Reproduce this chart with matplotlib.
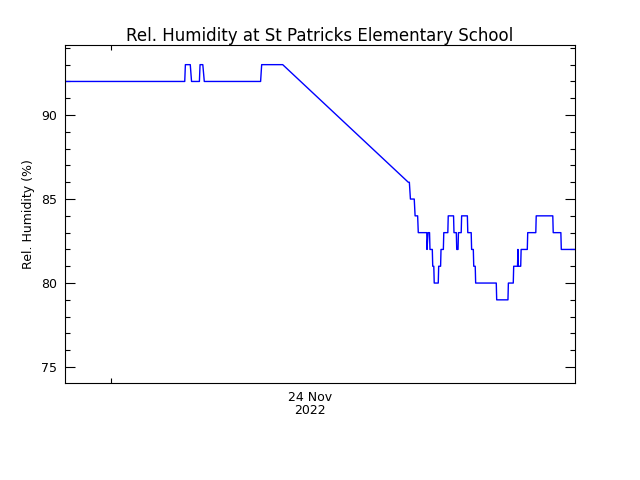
import numpy as np
import matplotlib
matplotlib.use("Agg")
import matplotlib.pyplot as plt
from matplotlib.ticker import MultipleLocator

# hours relative to 00:00, 24 Nov 2022
hours = [-2.16, 3.47, 3.50, 3.73, 3.79, 4.16, 4.19, 4.32, 4.39, 7.04, 7.09,
         8.08, 13.99, 14.04, 14.09, 14.27, 14.31, 14.43, 14.46, 14.86, 14.87,
         14.92, 14.99, 15.01, 15.12, 15.14, 15.19, 15.21, 15.40, 15.42, 15.51,
         15.53, 15.64, 15.66, 15.85, 15.87, 16.12, 16.14, 16.25, 16.27, 16.33,
         16.35, 16.48, 16.50, 16.77, 16.79, 16.95, 16.97, 17.05, 17.07, 17.14,
         17.16, 18.13, 18.15, 18.68, 18.70, 18.93, 18.95, 19.13, 19.15, 19.17,
         19.28, 19.30, 19.59, 19.61, 19.99, 20.01, 20.79, 20.81, 21.17, 21.19,
         21.84]
humidity = [92, 92, 93, 93, 92, 92, 93, 93, 92, 92, 93,
            93, 86, 86, 85, 85, 84, 84, 83, 83, 82,
            83, 83, 82, 82, 81, 81, 80, 80, 81, 81,
            82, 82, 83, 83, 84, 84, 83, 83, 82, 82,
            83, 83, 84, 84, 83, 83, 82, 82, 81, 81,
            80, 80, 79, 79, 80, 80, 81, 81, 82, 81,
            81, 82, 82, 83, 83, 84, 84, 83, 83, 82,
            82]

date_label = "24 Nov\n2022"
date_label_pos = 9.36
day_tick = 0.0

fig = plt.figure(figsize=(6.4, 4.8), dpi=100)
ax = fig.add_axes([65/640, 97/480, 510/640, 338/480])

ax.plot(hours, humidity, color=(0, 0, 1), linewidth=1.0)

ax.set_xlim(-2.165, 21.835)
ax.set_ylim(74.05, 94.17)

ax.yaxis.set_major_locator(MultipleLocator(5))
ax.yaxis.set_minor_locator(MultipleLocator(1))
ax.tick_params(axis="y", which="major", direction="in", length=7.2,
               width=0.8, left=True, right=True, labelsize=9, pad=6)
ax.tick_params(axis="y", which="minor", direction="in", length=3.6,
               width=0.8, left=True, right=True)

ax.set_xticks([date_label_pos])
ax.set_xticklabels([date_label], linespacing=1.0)
ax.set_xticks([day_tick], minor=True)
ax.tick_params(axis="x", which="major", length=0, labelsize=9, pad=6)
ax.tick_params(axis="x", which="minor", direction="in", length=3.6,
               width=0.8, top=True, bottom=True)

for s in ax.spines.values():
    s.set_linewidth(0.8)

ax.set_ylabel("Rel. Humidity (%)", fontsize=9, labelpad=4)
ax.set_title("Rel. Humidity at St Patricks Elementary School", fontsize=12, pad=3)

fig.savefig("out.png", dpi=100)
